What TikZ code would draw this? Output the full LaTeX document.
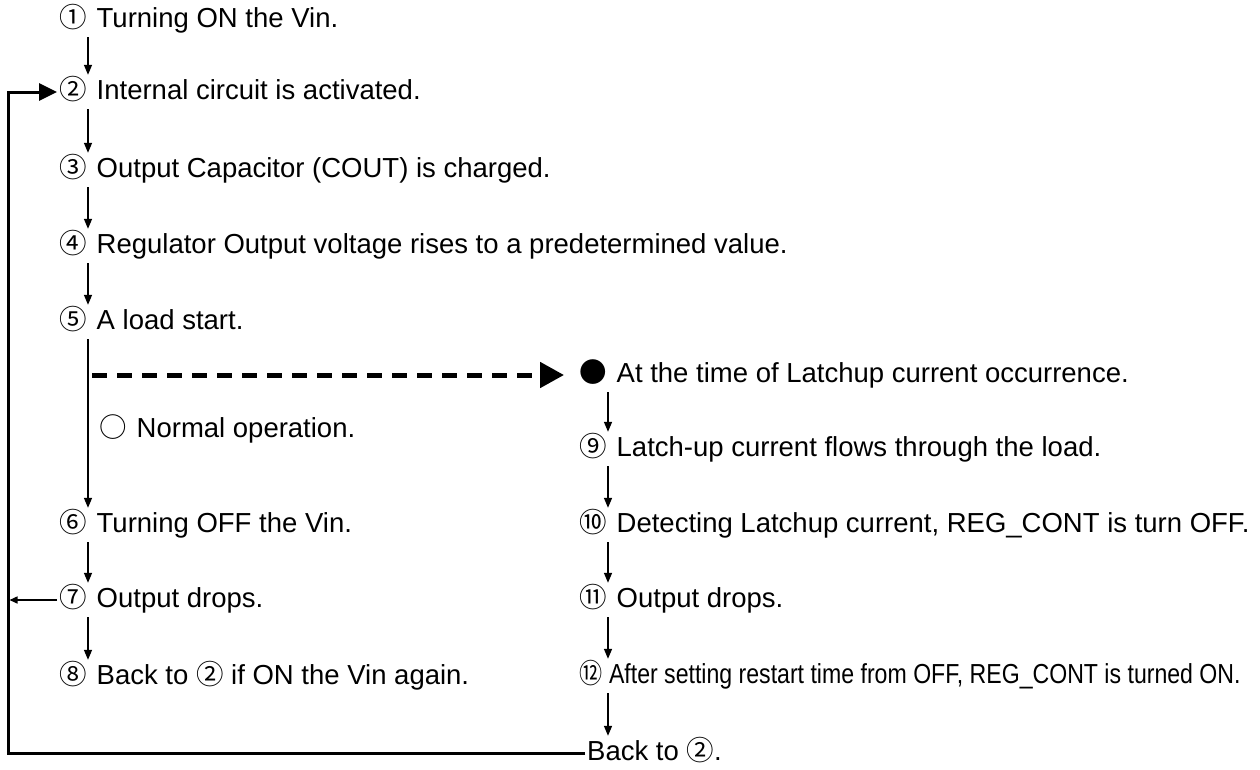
\documentclass[tikz,border=0pt]{standalone}
\usepackage{fontspec}
\usepackage{graphicx}
\setmainfont{Liberation Sans}
\newfontfamily\cjk{Noto Sans CJK JP}
\usetikzlibrary{arrows.meta}
\newcommand{\cn}[1]{{\cjk #1}\hspace{10pt}}
\begin{document}
\begin{tikzpicture}[x=1pt,y=-1pt,
  txt/.style={anchor=west, inner xsep=2pt, inner ysep=4pt, text height=20pt, text depth=6pt, font=\fontsize{27.5}{30}\selectfont},
  arr/.style={line width=1.5pt, -{Triangle[length=10pt,width=8pt]}},
  fb/.style={line width=3pt, -{Triangle[length=18pt,width=17pt]}},
  fbl/.style={line width=1.5pt, -{Triangle[length=8pt,width=7pt]}},
  dsh/.style={line width=5pt, dash pattern=on 15pt off 10pt, -{Triangle[length=24pt,width=25pt]}}]
\path[use as bounding box] (0,0) rectangle (1260,769);
% left column
\node[txt] (n1) at (57,20) {\cn{①}Turning ON the Vin.};
\node[txt] (n2) at (57,92) {\cn{②}Internal circuit is activated.};
\node[txt] (n3) at (57,170) {\cn{③}Output Capacitor (COUT) is charged.};
\node[txt] (n4) at (57,246) {\cn{④}Regulator Output voltage rises to a predetermined value.};
\node[txt] (n5) at (57,322) {\cn{⑤}A load start.};
\node[txt] (nrm) at (97,430) {\cn{○}Normal operation.};
\node[txt] (n6) at (57,525) {\cn{⑥}Turning OFF the Vin.};
\node[txt] (n7) at (57,600) {\cn{⑦}Output drops.};
\node[txt] (n8) at (57,677) {\cn{⑧}Back to {\cjk ②} if ON the Vin again.};
% right column
\node[txt] (bul) at (577,375) {\cn{●}At the time of Latchup current occurrence.};
\node[txt] (n9) at (577,449) {\cn{⑨}Latch-up current flows through the load.};
\node[txt] (n10) at (577,525) {\cn{⑩}Detecting Latchup current, REG\_CONT is turn OFF.};
\node[txt] (n11) at (577,600) {\cn{⑪}Output drops.};
\node[txt] (n12) at (577,676) {\scalebox{0.84}[1]{{\cjk ⑫}\hspace{8pt}After setting restart time from OFF, REG\_CONT is turned ON.}};
\node[txt] (back) at (585,753) {Back to {\cjk ②}.};
% helper coordinates
\coordinate (ax) at (88,0);
\coordinate (bx) at (608,0);
\coordinate (L) at (8,0);
\coordinate (ds) at (92,375);
% left arrows
\draw[arr] (n1.south -| ax) -- (n2.north -| ax);
\draw[arr] (n2.south -| ax) -- (n3.north -| ax);
\draw[arr] (n3.south -| ax) -- (n4.north -| ax);
\draw[arr] (n4.south -| ax) -- (n5.north -| ax);
\draw[arr] (n5.south -| ax) -- (n6.north -| ax);
\draw[arr] (n6.south -| ax) -- (n7.north -| ax);
\draw[arr] (n7.south -| ax) -- (n8.north -| ax);
% right arrows
\draw[arr] (bul.south -| bx) -- (n9.north -| bx);
\draw[arr] (n9.south -| bx) -- (n10.north -| bx);
\draw[arr] (n10.south -| bx) -- (n11.north -| bx);
\draw[arr] (n11.south -| bx) -- (n12.north -| bx);
\draw[arr] (n12.south -| bx) -- (back.north -| bx);
% dashed
\draw[dsh, shorten >=13pt] (ds) -- (bul.west);
% feedback loop
\draw[fb, line join=miter] (back.west) -- (back.west -| L) |- (n2.west);
\draw[fbl, shorten >=1.5pt] (n7.west) -- (n7.west -| L);
\end{tikzpicture}
\end{document}
